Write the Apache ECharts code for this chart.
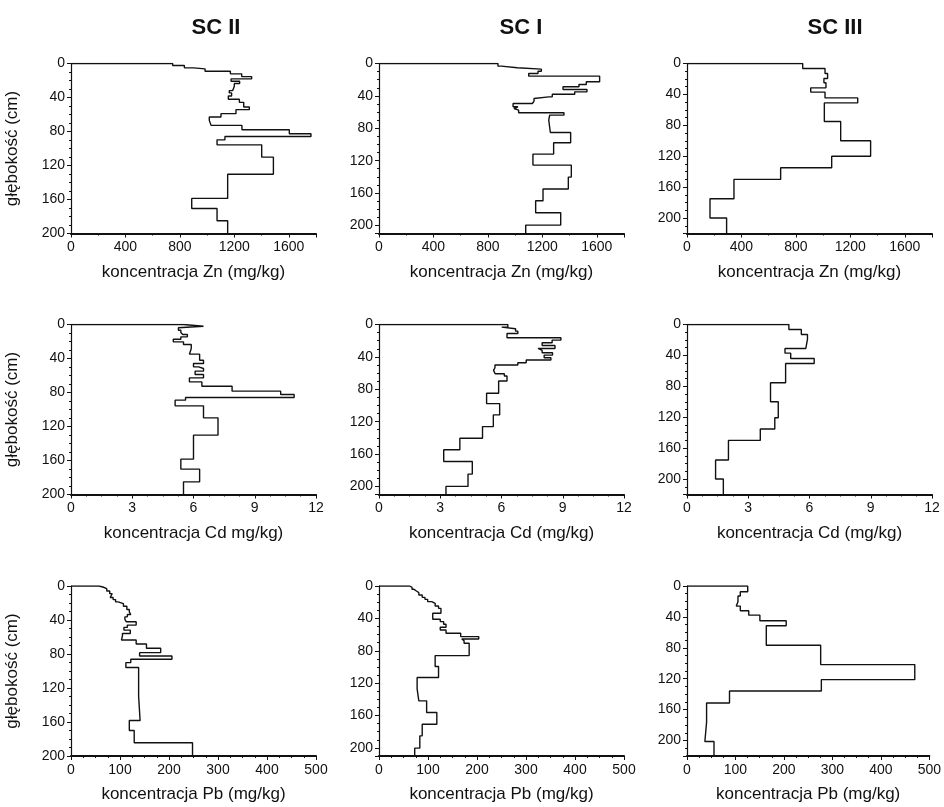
<!DOCTYPE html>
<html>
<head>
<meta charset="utf-8">
<script src="https://cdn.jsdelivr.net/npm/echarts@6/dist/echarts.min.js"></script>
<style>
  html, body { margin: 0; padding: 0; background: #fff; }
  #chart { width: 944px; height: 807px; }
</style>
</head>
<body>
<div id="chart"></div>
<script>
// Sampling sites (columns) and metals (rows)
const sites = ['SC II', 'SC I', 'SC III'];
const metals = ['Zn', 'Cd', 'Pb'];

// Depth axis (cm) for each site
const depthMax = [200, 210, 220];
const depthStep = 40;

// Concentration axis for each metal
const concMax = [1800, 12, 500];
const concStep = [400, 3, 100];
const concMinorSplit = [2, 4, 4];

// Axis titles
const depthTitle = 'głębokość (cm)';
const concTitles = [
  ['koncentracja Zn (mg/kg)', 'koncentracja Zn (mg/kg)', 'koncentracja Zn (mg/kg)'],
  ['koncentracja Cd mg/kg)', 'koncentracja Cd (mg/kg)', 'koncentracja Cd (mg/kg)'],
  ['koncentracja Pb (mg/kg)', 'koncentracja Pb (mg/kg)', 'koncentracja Pb (mg/kg)']
];

// Core layers: lower boundary of each layer (cm) and its concentration (mg/kg)
const scII_Zn_depth = [2.4, 5.1, 6.3, 9.1, 12.2, 15.4, 18.1, 20.9, 23.6, 26.8, 31.9, 34.6, 38.2, 42.1, 45.7, 51.2, 54.3, 59, 63, 66.9, 72.8, 78, 82.7, 85.8, 89.8, 95.7, 110.2, 130.3, 158.7, 170.5, 185, 200];
const scII_Zn_value = [747, 833, 901, 985, 1171, 1254, 1327, 1176, 1239, 1200, 1188, 1163, 1180, 1156, 1237, 1269, 1310, 1212, 1102, 1016, 1029, 1256, 1604, 1763, 1131, 1073, 1401, 1487, 1151, 887, 1073, 1151];

const scI_Zn_depth = [3.3, 5.3, 7, 9.5, 12.3, 15.6, 22.6, 25.9, 28.8, 32.1, 35, 37.9, 41.2, 43.2, 46.5, 49.4, 53.5, 55.6, 57.6, 60.9, 63.8, 65.8, 70, 85.2, 97.9, 111.9, 125.5, 140.3, 155.1, 169.5, 184.4, 199.6, 210];
const scI_Zn_value = [874, 899, 1016, 1193, 1168, 1100, 1621, 1523, 1469, 1352, 1528, 1438, 1273, 1247, 1139, 1127, 985, 1021, 992, 1026, 1359, 1254, 1247, 1259, 1408, 1283, 1131, 1413, 1391, 1205, 1151, 1335, 1078];

const scIII_Zn_depth = [6.5, 13, 19.5, 25, 31.5, 37, 44.5, 51, 75, 100, 120, 135, 150, 175, 200, 220];
const scIII_Zn_value = [850, 1014, 1033, 1006, 1021, 909, 1014, 1254, 1009, 1129, 1349, 1063, 688, 345, 169, 291];

const scII_Cd_depth = [2, 3.9, 6.7, 9.4, 11.8, 14.5, 17.3, 20.4, 23.5, 28.2, 34.9, 42, 45.9, 49.8, 51.8, 54.9, 58.8, 62.8, 67.5, 72.6, 78.4, 82.4, 85.9, 89, 95.7, 109.8, 130.2, 158.4, 170.2, 185.1, 200];
const scII_Cd_value = [5.51, 6.49, 5.26, 5.38, 5.47, 5.70, 5.38, 5.01, 5.51, 5.89, 5.80, 6.30, 6.49, 6.00, 6.25, 6.49, 6.08, 6.49, 5.80, 6.41, 7.89, 10.27, 10.93, 5.61, 5.10, 6.49, 7.20, 6.00, 5.38, 6.30, 5.51];

const scI_Cd_depth = [3.3, 5.3, 8.2, 11.1, 16.4, 19.3, 22.6, 25.9, 29.6, 32, 34.9, 37.8, 41.1, 43.9, 47.2, 50.1, 53.4, 56.7, 60.8, 63.7, 69.8, 85, 97.7, 111.7, 126.1, 140.5, 154.8, 169.2, 184.8, 200, 210];
const scI_Cd_value = [6.31, 6.01, 6.69, 6.80, 6.27, 8.91, 8.48, 7.99, 8.62, 7.79, 7.99, 8.50, 8.09, 8.42, 7.21, 6.80, 5.68, 5.61, 5.69, 6.14, 6.27, 5.86, 5.27, 5.91, 5.60, 5.07, 3.96, 3.17, 4.57, 4.36, 3.28];

const scIII_Cd_depth = [6.5, 12.9, 19.4, 31, 37.1, 44, 50.4, 75.4, 100, 120.7, 135.3, 150, 175.4, 200, 220];
const scIII_Cd_value = [4.99, 5.60, 5.90, 5.82, 4.80, 5.08, 6.23, 4.83, 4.09, 4.47, 4.30, 3.59, 2.03, 1.40, 1.78];

const scII_Pb_depth = [1.2, 3.1, 5.8, 9, 10.9, 13.6, 16, 18.7, 20.7, 23.8, 27.7, 30.4, 33.5, 36.3, 39.4, 42.1, 46, 48.7, 51.9, 55.8, 58.5, 63.6, 68.2, 73.3, 78.4, 82.3, 86.2, 90.1, 95.9, 129.8, 158.3, 170, 184.4, 200];
const scII_Pb_value = [57, 65, 73, 79, 84, 80, 86, 91, 96, 107, 114, 119, 122, 115, 110, 113, 133, 115, 108, 121, 105, 103, 133, 154, 183, 140, 206, 122, 112, 138, 141, 119, 129, 248];

const scI_Pb_depth = [1.6, 4.1, 6.2, 8.2, 11.1, 14, 16.5, 19.3, 21.4, 24.7, 27.6, 33.7, 41.1, 44, 47.3, 51, 54.3, 58.4, 62.5, 65.4, 67.5, 70.7, 86, 99.5, 113.1, 127.1, 141.9, 156.3, 170.7, 185.1, 200.3, 210];
const scI_Pb_value = [62.5, 67.4, 71.5, 76.4, 81.3, 88.2, 93.8, 99.3, 107.6, 114.6, 121.5, 126.4, 109.7, 125, 131.9, 136.8, 125, 136.8, 166.7, 203.5, 168.8, 173.6, 184, 114.6, 121.5, 77.8, 81.3, 97.2, 118, 88.2, 83.3, 72.9];

const scIII_Pb_depth = [7.4, 13, 20.3, 26, 32, 37.7, 45, 51.5, 76.6, 101.7, 121.2, 135.9, 151.5, 176.2, 201.3, 220];
const scIII_Pb_value = [125.3, 110, 105.2, 101.7, 110, 127.4, 150.4, 204.7, 163.6, 275.8, 470, 277.2, 87.7, 40.4, 36.9, 55.7];

// Profiles indexed [metal][site]
const profiles = [
  [[scII_Zn_depth, scII_Zn_value], [scI_Zn_depth, scI_Zn_value], [scIII_Zn_depth, scIII_Zn_value]],
  [[scII_Cd_depth, scII_Cd_value], [scI_Cd_depth, scI_Cd_value], [scIII_Cd_depth, scIII_Cd_value]],
  [[scII_Pb_depth, scII_Pb_value], [scI_Pb_depth, scI_Pb_value], [scIII_Pb_depth, scIII_Pb_value]]
];

// Panel layout
const colLeft = [71, 379, 687];
const rowTop = [63.5, 324.5, 586];
const panelW = 245;
const panelH = 170;

const FONT = "'Liberation Sans', Arial, Helvetica, sans-serif";
const INK = '#111';

// Plain integers on the axes, no thousands separator
const plainNumber = (v) => String(v);

// Turn layers into a stepped depth profile: start at the surface on the
// zero line, then each layer is a vertical run at its concentration.
function stepProfile(depths, values) {
  const pts = [[0, 0]];
  let top = 0;
  for (let i = 0; i < values.length; i++) {
    pts.push([values[i], top]);
    pts.push([values[i], depths[i]]);
    top = depths[i];
  }
  return pts;
}

const grid = [], xAxis = [], yAxis = [], series = [], graphic = [];

for (let r = 0; r < metals.length; r++) {
  for (let c = 0; c < sites.length; c++) {
    const k = grid.length;
    grid.push({ left: colLeft[c], top: rowTop[r], width: panelW, height: panelH, containLabel: false });

    xAxis.push({
      type: 'value', gridIndex: k, position: 'bottom',
      min: 0, max: concMax[r], interval: concStep[r],
      name: concTitles[r][c], nameLocation: 'middle', nameGap: 30,
      nameTextStyle: { fontFamily: FONT, fontSize: 17, color: INK },
      axisLine: { show: true, onZero: false, lineStyle: { color: INK, width: 2 } },
      axisTick: { show: true, length: 4, lineStyle: { color: INK, width: 1 } },
      minorTick: { show: true, splitNumber: concMinorSplit[r], length: 2, lineStyle: { color: INK, width: 1 } },
      axisLabel: { fontFamily: FONT, fontSize: 14, color: INK, margin: 7,
                   formatter: plainNumber,
                   showMaxLabel: concMax[r] % concStep[r] === 0 },
      splitLine: { show: false }
    });

    yAxis.push({
      type: 'value', gridIndex: k, inverse: true,
      min: 0, max: depthMax[c], interval: depthStep,
      name: c === 0 ? depthTitle : '', nameLocation: 'middle', nameGap: 50, nameRotate: 90,
      nameTextStyle: { fontFamily: FONT, fontSize: 17, color: INK },
      axisLine: { show: true, onZero: false, lineStyle: { color: INK, width: 1.2 } },
      axisTick: { show: true, length: 4, lineStyle: { color: INK, width: 1 } },
      minorTick: { show: true, splitNumber: 4, length: 2, lineStyle: { color: INK, width: 1 } },
      axisLabel: { fontFamily: FONT, fontSize: 14, color: INK, margin: 6,
                   formatter: plainNumber,
                   showMaxLabel: depthMax[c] % depthStep === 0 },
      splitLine: { show: false }
    });

    const [d, v] = profiles[r][c];
    series.push({
      type: 'line', xAxisIndex: k, yAxisIndex: k,
      data: stepProfile(d, v),
      showSymbol: false, symbol: 'none',
      lineStyle: { color: INK, width: 1.4 },
      silent: true, animation: false
    });
  }
}

// Site headers above each column
for (let c = 0; c < sites.length; c++) {
  graphic.push({
    type: 'text', left: colLeft[c] + panelW / 2 - 2, top: 17,
    style: {
      text: sites[c], fill: INK, textAlign: 'center',
      font: "bold 22px 'Liberation Sans Narrow', " + FONT
    }
  });
}

const chart = echarts.init(document.getElementById('chart'), null, { renderer: 'canvas' });
chart.setOption({
  backgroundColor: '#fff',
  animation: false,
  grid, xAxis, yAxis, series, graphic
});
</script>
</body>
</html>
